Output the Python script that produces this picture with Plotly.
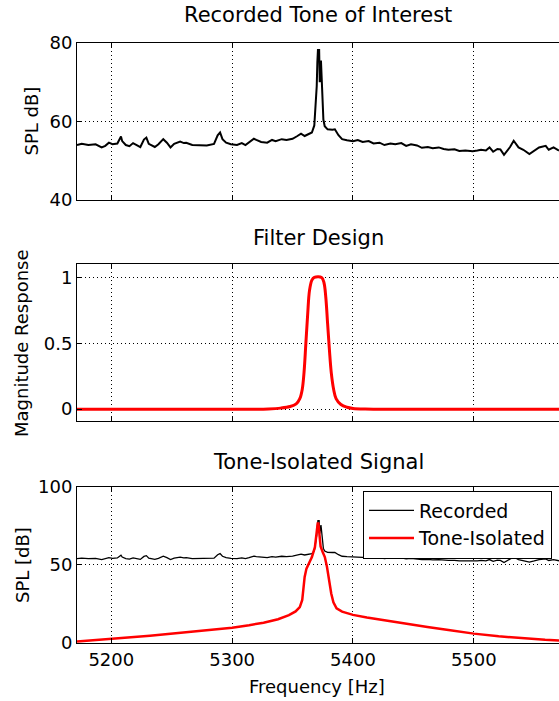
import plotly.graph_objects as go

# ---------------- data ----------------
rec_freq = [5171.6, 5175.5, 5181, 5187, 5192, 5195, 5198, 5201, 5205, 5208, 5209, 5212, 5215, 5218,
            5221, 5224, 5227, 5229, 5231, 5236, 5239, 5243, 5246, 5249, 5252, 5257, 5260, 5262,
            5267, 5273, 5279, 5285, 5288, 5290, 5292, 5295, 5299, 5304, 5308, 5311, 5314, 5318,
            5320, 5324, 5329, 5333, 5336, 5341, 5345, 5350, 5354, 5357, 5360, 5362, 5364, 5366,
            5368, 5369, 5370, 5370.5, 5371, 5372, 5372.5, 5373.5, 5374.5, 5375.5, 5376.6, 5379,
            5383, 5385, 5388, 5391, 5395, 5400, 5404, 5408, 5413, 5417, 5422, 5426, 5431, 5435,
            5440, 5444, 5448, 5453, 5457, 5462, 5466, 5471, 5475, 5479, 5484, 5488, 5493, 5499,
            5503, 5506, 5510, 5513, 5516, 5519.5, 5522, 5525, 5530, 5533, 5537, 5541, 5546,
            5550, 5554, 5559.5, 5562, 5566, 5570.5]
rec_spl = [54.0, 54.3, 54.0, 54.2, 53.4, 53.8, 54.6, 54.2, 54.4, 56.2, 55.0, 54.0, 53.7, 54.5,
           54.0, 53.5, 55.4, 55.9, 54.3, 53.5, 54.2, 55.5, 54.6, 53.4, 54.3, 54.9, 54.5, 54.6,
           54.0, 54.0, 53.9, 54.3, 56.5, 57.2, 55.5, 54.6, 54.2, 54.0, 54.5, 54.0, 54.6, 55.6,
           55.3, 54.8, 54.6, 55.3, 55.0, 55.5, 55.3, 55.6, 56.3, 56.9, 56.3, 56.6, 56.8, 57.2,
           59.0, 63.0, 69.0, 75.0, 78.2, 78.2, 70.0, 75.5, 66.0, 60.5, 58.8, 58.0,
           57.9, 58.0, 56.5, 55.5, 55.2, 55.0, 55.3, 54.8, 55.0, 54.4, 54.6, 54.0, 54.4, 54.2,
           54.5, 53.8, 54.2, 53.9, 53.3, 53.5, 53.2, 53.4, 53.0, 52.8, 52.9, 52.5, 52.6, 52.4,
           52.6, 52.8, 52.6, 53.4, 52.3, 53.0, 52.9, 51.5, 53.5, 55.1, 53.4, 52.8, 51.7,
           52.5, 53.4, 53.8, 52.8, 53.4, 52.6]

filt_freq = [5171.6, 5320, 5330, 5340, 5348, 5353, 5356, 5358, 5359.5, 5361, 5362.5, 5364, 5366,
             5368, 5374, 5376, 5377.5, 5379, 5380.5, 5382, 5384, 5386, 5390, 5395, 5400, 5410,
             5420, 5570.5]
filt_mag = [0.0, 0.0, 0.002, 0.008, 0.02, 0.04, 0.08, 0.15, 0.28, 0.5, 0.72, 0.9, 0.98,
            1.0, 1.0, 0.96, 0.85, 0.65, 0.45, 0.28, 0.15, 0.08, 0.035, 0.015, 0.006, 0.001,
            0.0, 0.0]

iso_freq = [5171.6, 5184, 5200, 5214, 5232, 5249, 5267, 5285, 5300, 5314, 5326, 5338, 5347,
            5352.5, 5356, 5358, 5359, 5360, 5361.5, 5364, 5366, 5368.5, 5369.6, 5370.8, 5371.4,
            5372.3, 5373.2, 5375, 5376.7, 5378.5, 5380, 5382, 5383.8, 5386.4, 5391, 5400,
            5411.5, 5426, 5444, 5461.6, 5479, 5500, 5520.6, 5541, 5559, 5570.5]
iso_spl = [1.0, 1.7, 2.5, 3.5, 4.6, 5.9, 7.2, 8.5, 9.8, 11.4, 13.0, 15.2, 17.8,
           20.2, 23.0, 27.5, 33.8, 42.3, 47.6, 51.8, 55.0, 61.3, 69.8, 76.5, 76.5,
           69.8, 61.7, 58.1, 55.0, 48.6, 40.2, 31.7, 26.0, 22.2, 20.1, 18.0,
           16.3, 14.4, 12.3, 10.2, 8.3, 6.0, 4.3, 2.9, 2.0, 1.6]

x_ticks = [5200, 5300, 5400, 5500]
x_range = [5171.6, 5570.5]

titles = ["Recorded Tone of Interest", "Filter Design", "Tone-Isolated Signal"]
ylabels = ["SPL dB]", "Magnitude Response", "SPL [dB]"]
xlabel = "Frequency [Hz]"

# ---------------- figure ----------------
FONT = "DejaVu Sans"
W, H = 559, 701
ML, MR, MT, MB = 77, 0, 43, 58
PW, PH = W - ML - MR, H - MT - MB

def py(p):  # pixel y -> paper y
    return (H - MB - p) / PH

def px(p):
    return (p - ML) / PW

fig = go.Figure()
fig.add_trace(go.Scatter(x=rec_freq, y=rec_spl, mode="lines", line=dict(color="black", width=2),
                         showlegend=False, xaxis="x", yaxis="y"))
fig.add_trace(go.Scatter(x=filt_freq, y=filt_mag, mode="lines", line=dict(color="#ff0000", width=3),
                         showlegend=False, xaxis="x2", yaxis="y2", line_shape="spline"))
fig.add_trace(go.Scatter(x=rec_freq, y=rec_spl, mode="lines", name="Recorded",
                         line=dict(color="black", width=1.3), xaxis="x3", yaxis="y3"))
fig.add_trace(go.Scatter(x=iso_freq, y=iso_spl, mode="lines", name="Tone-Isolated",
                         line=dict(color="#ff0000", width=2.5), xaxis="x3", yaxis="y3"))

grid = dict(showgrid=True, gridcolor="black", gridwidth=1, griddash="1px,3px", zeroline=False)
tickf = dict(family=FONT, size=18, color="black")

def xax(anchor, labels):
    return dict(domain=[0, 1], range=x_range, anchor=anchor, tickvals=x_ticks,
                showticklabels=labels, ticks="inside", ticklen=5, tickcolor="black",
                showline=True, linecolor="black", linewidth=1, mirror="ticks",
                tickfont=tickf, **grid)

def yax(anchor, dom, rng, tv, tt):
    return dict(domain=dom, range=rng, anchor=anchor, tickvals=tv, ticktext=tt,
                ticks="inside", ticklen=5, tickcolor="black", showline=True,
                linecolor="black", linewidth=1, mirror=False, tickfont=tickf, **grid)

top = [py(200), 1.0]
mid = [py(421.3), py(264.3)]
bot = [0.0, py(486.7)]

fig.update_layout(
    width=W, height=H, margin=dict(l=ML, r=MR, t=MT, b=MB),
    paper_bgcolor="white", plot_bgcolor="white",
    font=dict(family=FONT, size=18, color="black"),
    xaxis=xax("y", False), xaxis2=xax("y2", False), xaxis3=xax("y3", True),
    yaxis=yax("x", top, [40, 80], [40, 60, 80], ["40", "60", "80"]),
    yaxis2=yax("x2", mid, [-0.092, 1.1], [0, 0.5, 1], ["0", "0.5", "1"]),
    yaxis3=yax("x3", bot, [0, 100], [0, 50, 100], ["0", "50", "100"]),
    legend=dict(x=px(363), y=py(490.5), xanchor="left", yanchor="top",
                bordercolor="black", borderwidth=1, bgcolor="white",
                font=dict(family=FONT, size=19, color="black"), tracegroupgap=0,
                itemwidth=45),
    showlegend=True,
)

ann = []
for t, yc in zip(titles, [15, 238, 462]):
    ann.append(dict(text=t, x=0.5, y=py(yc), xref="paper", yref="paper", xanchor="center",
                    yanchor="middle", showarrow=False, font=dict(family=FONT, size=21)))
for t, xc, yc in zip(ylabels, [31, 21, 22], [121.5, 343, 565]):
    ann.append(dict(text=t, x=px(xc), y=py(yc), xref="paper", yref="paper", xanchor="center",
                    yanchor="middle", textangle=-90, showarrow=False, font=dict(family=FONT, size=18)))
ann.append(dict(text=xlabel, x=px(317), y=py(686.7), xref="paper", yref="paper", xanchor="center",
                yanchor="middle", showarrow=False, font=dict(family=FONT, size=18)))
fig.update_layout(annotations=ann)

fig.write_html("out.html", config={"displayModeBar": False},
               post_script="document.body.style.margin='0px';document.body.style.overflow='hidden';")
